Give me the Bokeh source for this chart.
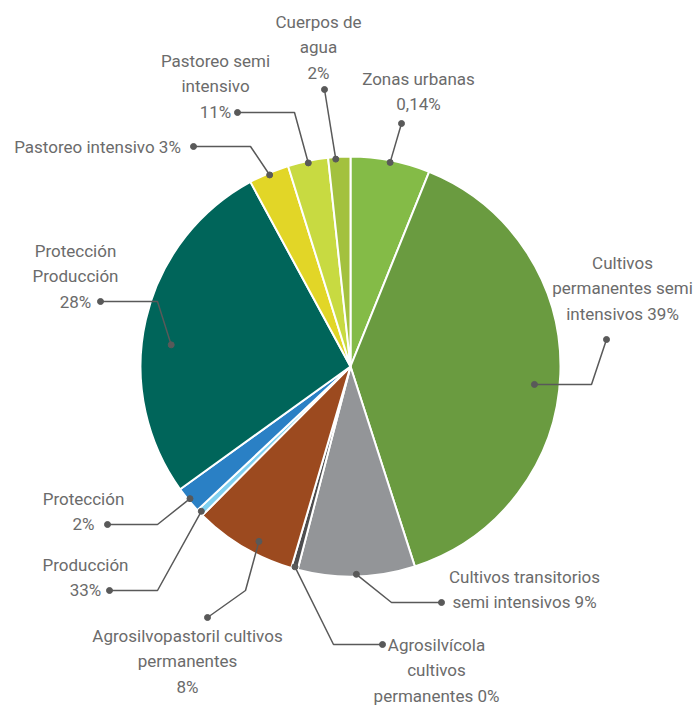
import math
from bokeh.plotting import figure
from bokeh.models import Range1d
from bokeh.embed import file_html
from bokeh.resources import INLINE
from bokeh.core.properties import value

# ---- data (clockwise from 12 o'clock) ----
categories = ["Zonas urbanas", "Cultivos permanentes semi intensivos",
              "Cultivos transitorios semi intensivos", "Agrosilvícola cultivos permanentes",
              "Agrosilvopastoril cultivos permanentes", "Producción", "Protección",
              "Protección Producción", "Pastoreo intensivo", "Pastoreo semi intensivo",
              "Cuerpos de agua"]
shares = [6.1, 38.9, 9.0, 0.5, 7.9, 0.55, 2.05, 27.0, 3.1, 3.1, 1.7]
label_lines = [
    ["Zonas urbanas", "0,14%"],
    ["Cultivos", "permanentes semi", "intensivos 39%"],
    ["Cultivos transitorios", "semi intensivos 9%"],
    ["Agrosilvícola", "cultivos", "permanentes 0%"],
    ["Agrosilvopastoril cultivos", "permanentes", "8%"],
    ["Producción", "33%"],
    ["Protección", "2%"],
    ["Protección", "Producción", "28%"],
    ["Pastoreo intensivo 3%"],
    ["Pastoreo semi", "intensivo", "11%"],
    ["Cuerpos de", "agua", "2%"],
]
colors = ["#84BB47", "#6A9B40", "#939598", "#4D4D4F", "#9C4A1F", "#7FD0F0",
          "#2A80C5", "#00655A", "#E2D627", "#C8DA41", "#A3C13E"]

# ---- layout (image pixel coordinates, y downward) ----
W, H = 697, 706
def X(x): return x
def Y(y): return H - y

CX, CY, R = 350, 366, 210
text_x = [418, 622, 524, 436, 187, 85, 83, 75, 97, 215, 318]
text_y0 = [78, 262, 576, 644, 635, 564, 498, 250, 146, 60, 21]
line_h = 25.5
lab_dot = [(401, 123), (606, 339), (441, 602), (382, 644), (207, 617), (109, 590),
           (107, 524), (100, 301), (193, 146), (237, 112), (324, 89)]
elbow = [None, (591, None), (391, 602), (333, 644), (245, 590), (157, 590),
         (157, 524), (157, 301), (250, 146), (294, 112), None]
r_frac = [0.99, 0.88, 0.99, 0.99, 0.94, 0.99, 0.99, 0.86, 0.99, 0.99, 0.99]
a_shift = [0, 3.5, 0, 0, -3, 0, 0, -6, 0, 0, -1]

total = sum(shares)
p = figure(width=W, height=H, x_range=Range1d(0, W), y_range=Range1d(0, H),
           output_backend="svg", toolbar_location=None, min_border=0,
           x_axis_type=None, y_axis_type=None)
p.grid.visible = False
p.outline_line_color = None
p.background_fill_color = "white"

cum = 0.0
anchors = []
for i, s in enumerate(shares):
    t0 = cum / total * 360.0
    t1 = (cum + s) / total * 360.0
    cum += s
    p.wedge(x=X(CX), y=Y(CY), radius=R, radius_units="screen",
            start_angle=math.radians(90 - t1), end_angle=math.radians(90 - t0),
            fill_color=colors[i], line_color="white", line_width=2)
    mid = math.radians((t0 + t1) / 2 + a_shift[i])
    rr = R * r_frac[i]
    anchors.append((CX + rr * math.sin(mid), CY - rr * math.cos(mid)))

lc = "#595959"
for i in range(len(shares)):
    ax, ay = anchors[i]
    pts = [lab_dot[i]]
    if elbow[i] is not None:
        ex, ey = elbow[i]
        if ey is None:
            ey = ay
        pts.append((ex, ey))
    pts.append((ax, ay))
    p.line([X(a) for a, b in pts], [Y(b) for a, b in pts], line_color=lc, line_width=1.5)
    p.scatter([X(lab_dot[i][0]), X(ax)], [Y(lab_dot[i][1]), Y(ay)], size=6,
              fill_color=lc, line_color=lc)
    for k, line in enumerate(label_lines[i]):
        p.text(x=[X(text_x[i])], y=[Y(text_y0[i] + k * line_h)], text=[line],
               text_align="center", text_baseline="middle",
               text_font=value("Roboto"), text_font_size="17px",
               text_color="#6B6B6B")

open("out.html", "w").write(file_html(p, INLINE))
